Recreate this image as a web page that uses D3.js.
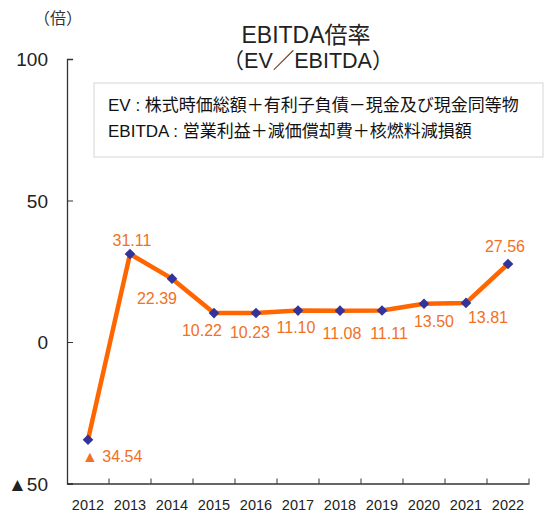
<!DOCTYPE html>
<html>
<head>
<meta charset="utf-8">
<script src="https://cdn.jsdelivr.net/npm/d3@7"></script>
<style>
  body { margin: 0; background: #fff; }
  svg text { font-family: "Liberation Sans", "Noto Sans CJK JP", sans-serif; }
</style>
</head>
<body>
<div id="chart"></div>
<script>
// data
var years = ["2012", "2013", "2014", "2015", "2016", "2017", "2018", "2019", "2020", "2021", "2022"];
var ratios = [-34.54, 31.11, 22.39, 10.22, 10.23, 11.10, 11.08, 11.11, 13.50, 13.81, 27.56];
var yTicks = [-50, 0, 50, 100];
// label offsets from each point (dx, dy to baseline) as placed in the picture
var labelDx = [-6, 2, -15, -12, -6, -2, 2, 7, 10, 22, -3];
var labelDy = [22, -8, 25, 23, 25, 22, 28, 28, 23, 20, -12];
var legendLines = ["EV : 株式時価総額＋有利子負債－現金及び現金同等物", "EBITDA : 営業利益＋減価償却費＋核燃料減損額"];

var W = 546, H = 515,
    plotL = 67, plotR = 529, plotT = 59, plotB = 483.5,
    lineColor = "#ff6600",
    labelColor = "#f27022",
    markColor = "#333399";

var svg = d3.select("#chart").append("svg")
    .attr("width", W)
    .attr("height", H);

var x = d3.scaleBand().domain(years).range([plotL, plotR]);
var y = d3.scaleLinear().domain([-50, 100]).range([plotB, plotT]);

// title
svg.append("text")
    .attr("x", 306).attr("y", 43)
    .attr("text-anchor", "middle")
    .attr("font-size", 23)
    .attr("fill", "#222")
    .text("EBITDA倍率");
svg.append("text")
    .attr("x", 308).attr("y", 68)
    .attr("text-anchor", "middle")
    .attr("font-size", 21.5)
    .attr("fill", "#222")
    .text("（EV／EBITDA）");

// unit
svg.append("text")
    .attr("x", 58).attr("y", 24)
    .attr("text-anchor", "middle")
    .attr("font-size", 16)
    .attr("fill", "#333")
    .text("（倍）");

// y axis
var yAxis = d3.axisRight(y)
    .tickValues(yTicks)
    .tickSize(6)
    .tickFormat(function(d) { return ""; });
var gy = svg.append("g")
    .attr("transform", "translate(" + plotL + ",0)")
    .call(yAxis);
gy.select(".domain").attr("stroke", "#333").attr("stroke-width", 1.3);
gy.selectAll(".tick line").attr("stroke", "#333");

svg.append("g").selectAll("text")
    .data(yTicks)
    .enter()
    .append("text")
    .attr("x", 48)
    .attr("y", function(d) { return y(d) + 7; })
    .attr("text-anchor", "end")
    .attr("font-size", 19)
    .attr("fill", "#222")
    .text(function(d) { return d < 0 ? "▲" + Math.abs(d) : d; });

// x axis
var xAxis = d3.axisTop(x).tickSize(0).tickFormat("");
var gx = svg.append("g")
    .attr("transform", "translate(0," + plotB + ")")
    .call(xAxis);
gx.select(".domain").attr("stroke", "#333").attr("stroke-width", 1.3);
gx.append("g").selectAll("line")
    .data(years)
    .enter()
    .append("line")
    .attr("x1", function(d) { return x(d) + x.bandwidth(); })
    .attr("x2", function(d) { return x(d) + x.bandwidth(); })
    .attr("y1", 0).attr("y2", -5)
    .attr("stroke", "#333");

svg.append("g").selectAll("text")
    .data(years)
    .enter()
    .append("text")
    .attr("x", function(d) { return x(d) + x.bandwidth() / 2; })
    .attr("y", 510)
    .attr("text-anchor", "middle")
    .attr("font-size", 14.5)
    .attr("fill", "#222")
    .text(function(d) { return d; });

// legend box
svg.append("rect")
    .attr("x", 94).attr("y", 83)
    .attr("width", 449).attr("height", 74)
    .attr("fill", "#fff")
    .attr("stroke", "#d6d6d6");
svg.append("g").selectAll("text")
    .data(legendLines)
    .enter()
    .append("text")
    .attr("x", 108)
    .attr("y", function(d, i) { return 111 + i * 26; })
    .attr("font-size", 17)
    .attr("fill", "#111")
    .text(function(d) { return d; });

// line
var cx = function(i) { return x(years[i]) + x.bandwidth() / 2; };
var line = d3.line()
    .x(function(d, i) { return cx(i); })
    .y(function(d) { return y(d); });
svg.append("path")
    .datum(ratios)
    .attr("d", line)
    .attr("fill", "none")
    .attr("stroke", lineColor)
    .attr("stroke-width", 4.5)
    .attr("stroke-linejoin", "round");

// markers
svg.append("g").selectAll("path")
    .data(ratios)
    .enter()
    .append("path")
    .attr("d", d3.symbol().type(d3.symbolDiamond2).size(72))
    .attr("transform", function(d, i) { return "translate(" + cx(i) + "," + y(d) + ")"; })
    .attr("fill", markColor);

// value labels
svg.append("g").selectAll("text")
    .data(ratios)
    .enter()
    .append("text")
    .attr("x", function(d, i) { return cx(i) + labelDx[i]; })
    .attr("y", function(d, i) { return y(d) + labelDy[i]; })
    .attr("text-anchor", function(d) { return d < 0 ? "start" : "middle"; })
    .attr("font-size", 16)
    .attr("fill", labelColor)
    .text(function(d) { return d < 0 ? "▲ " + Math.abs(d).toFixed(2) : d.toFixed(2); });
</script>
</body>
</html>
